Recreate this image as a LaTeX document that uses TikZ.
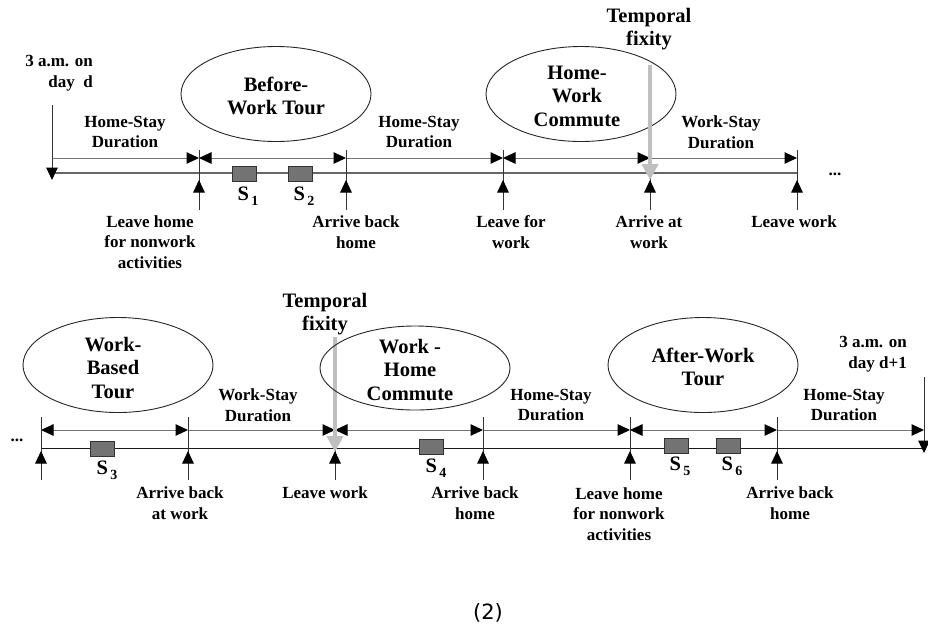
\documentclass[tikz,border=0pt]{standalone}
\usepackage{fontspec}
\setmainfont{Liberation Serif}
\newfontfamily\capfont{DejaVu Sans}
\usetikzlibrary{arrows.meta,shapes.geometric}
\newcommand{\stp}[1]{S\hspace{2.5pt}\raisebox{-5pt}{\fontsize{14}{14}\selectfont #1}}
\begin{document}
\begin{tikzpicture}[x=1pt,y=-1pt,
  >={Triangle[length=12.5pt,width=11.5pt,color=black]},
  lbl/.style={font=\bfseries\fontsize{17}{20.5}\selectfont, align=center, inner sep=0pt},
  big/.style={font=\bfseries\fontsize{20.5}{23.5}\selectfont, align=center, inner sep=0pt},
  oval/.style={draw=black!85, line width=0.9pt, ellipse, minimum width=190pt, minimum height=95pt, inner sep=0pt},
  tline/.style={draw=black!60, line width=1.1pt},
  tlineb/.style={draw=black!90, line width=1pt},
  dur/.style={draw=black!55, line width=1pt},
  tick/.style={draw=black!80, line width=1pt},
  stop/.style={draw=black!80, fill=black!55, line width=0.8pt, minimum width=24pt, minimum height=15pt, inner sep=0pt},
  fix/.style={draw=black!25, line width=4pt, -{Triangle[length=16pt,width=16pt]}},
]
\useasboundingbox (0,0) rectangle (928,630);

% ---------------- top row ----------------
\coordinate (D0) at (52,158);
\coordinate (L0) at (52,173);
\coordinate (S0) at (52,105);
\coordinate (S0t) at (52,180);
\foreach \n/\x in {1/199,2/346,3/503,4/650,5/797}{
  \coordinate (T\n) at (\x,150);
  \coordinate (B\n) at (\x,210);
  \coordinate (P\n) at (\x,180);
  \coordinate (D\n) at (\x,158);
  \coordinate (L\n) at (\x,173);
}
\draw[tline] (L0) -- (L5);
\draw[dur,->] (D0) -- (D1);
\draw[dur,<->] (D1) -- (D2);
\draw[dur,->] (D2) -- (D3);
\draw[dur,<->] (D3) -- (D4);
\draw[dur,->] (D4) -- (D5);
\foreach \n in {1,2,3,4,5}{
  \draw[tick] (T\n) -- (B\n);
  \draw[tick,->] (B\n) -- (P\n);
}
\draw[tick,->] (S0) -- (S0t);

\node[stop] (s1) at (244,174) {};
\node[stop] (s2) at (300,174) {};
\node[big] (s1l) at (248,196) {\stp{1}};
\node[big] (s2l) at (304,196) {\stp{2}};

\node[lbl, align=right, anchor=east] (day) at (93,73) {3 a.m. on\\day\ \ d};
\node[lbl] (hs1) at (125,132) {Home-Stay\\Duration};
\node[oval] (bwt) at (276,94) {};
\node[big] (bwtt) at (276,96) {Before-\\Work Tour};
\node[lbl] (hs2) at (419,132) {Home-Stay\\Duration};
\node[oval] (hwc) at (581,94) {};
\node[big] (hwct) at (577,96) {Home-\\Work\\Commute};
\node[big] (tf1) at (649,29) {Temporal\\fixity};
\coordinate (F1a) at (650,65);
\coordinate (F1b) at (650,180);
\draw[fix] (F1a) -- (F1b);
\node[lbl] (ws1) at (721,132) {Work-Stay\\Duration};
\node[lbl, anchor=base] (dots1) at (835,175) {...};

\node[lbl] (lh1) at (150,242) {Leave home\\for nonwork\\activities};
\node[lbl] (ab1) at (356,232) {Arrive back\\home};
\node[lbl] (lw1) at (511,232) {Leave for\\work};
\node[lbl] (aw1) at (649,232) {Arrive at\\work};
\node[lbl] (lv1) at (794,222) {Leave work};

% ---------------- bottom row ----------------
\foreach \n/\x in {0/41,1/188,2/335,3/483,4/630,5/777}{
  \coordinate (U\n) at (\x,417);
  \coordinate (V\n) at (\x,480);
  \coordinate (Q\n) at (\x,451);
  \coordinate (E\n) at (\x,430);
  \coordinate (M\n) at (\x,448);
}
\coordinate (E6) at (924,430);
\coordinate (M6) at (924,448);
\coordinate (R6) at (924,377);
\coordinate (R6t) at (924,453);
\draw[tlineb] (M0) -- (M6);
\draw[dur,<->] (E0) -- (E1);
\draw[dur,->] (E1) -- (E2);
\draw[dur,<->] (E2) -- (E3);
\draw[dur,->] (E3) -- (E4);
\draw[dur,<->] (E4) -- (E5);
\draw[dur,->] (E5) -- (E6);
\foreach \n in {0,1,2,3,4,5}{
  \draw[tick] (U\n) -- (V\n);
  \draw[tick,->] (V\n) -- (Q\n);
}
\draw[tick,->] (R6) -- (R6t);

\node[stop] (s3) at (102,449) {};
\node[stop] (s4) at (431,447) {};
\node[stop] (s5) at (676,446) {};
\node[stop] (s6) at (728,446) {};
\node[big] (s3l) at (107,470) {\stp{3}};
\node[big] (s4l) at (436,468) {\stp{4}};
\node[big] (s5l) at (680,466) {\stp{5}};
\node[big] (s6l) at (732,466) {\stp{6}};

\node[lbl, anchor=base] (dots2) at (17,441) {...};
\node[oval] (wbt) at (118,365) {};
\node[big] (wbtt) at (113,368) {Work-\\Based\\Tour};
\node[lbl] (ws2) at (258,405) {Work-Stay\\Duration};
\node[big] (tf2) at (325,314) {Temporal\\fixity};
\coordinate (F2a) at (335,337);
\coordinate (F2b) at (335,452);
\draw[fix] (F2a) -- (F2b);
\node[oval, minimum height=84pt] (whc) at (415,368) {};
\node[big] (whct) at (410,370) {Work -\\Home\\Commute};
\node[lbl] (hs3) at (551,405) {Home-Stay\\Duration};
\node[oval] (awt) at (703,365) {};
\node[big] (awtt) at (703,367) {After-Work\\Tour};
\node[lbl] (hs4) at (844,405) {Home-Stay\\Duration};
\node[lbl, align=right, anchor=east] (day2) at (907,354) {3 a.m. on\\day d+1};

\node[lbl] (ab2) at (180,503) {Arrive back\\at work};
\node[lbl] (lv2) at (325,493) {Leave work};
\node[lbl] (ab3) at (475,503) {Arrive back\\home};
\node[lbl] (lh2) at (619,514) {Leave home\\for nonwork\\activities};
\node[lbl] (ab4) at (790,503) {Arrive back\\home};

\node[font=\capfont\fontsize{21}{24}\selectfont, inner sep=0pt] (cap) at (488,613) {(2)};
\end{tikzpicture}
\end{document}
